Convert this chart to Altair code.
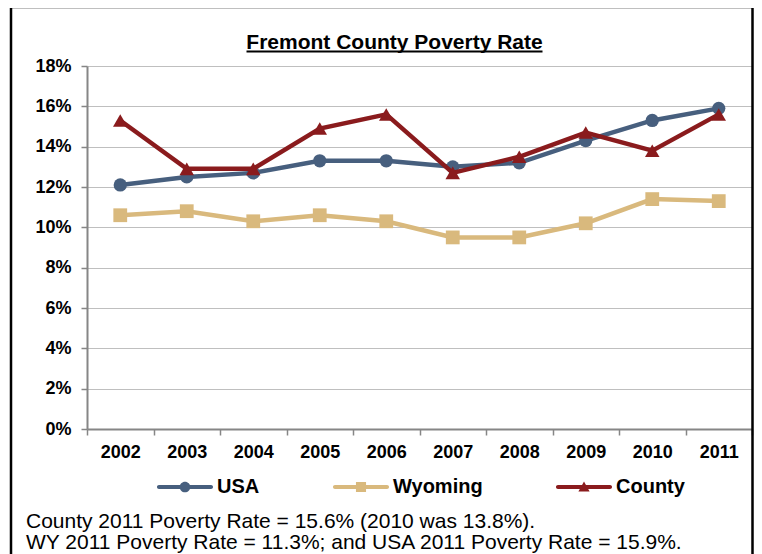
import altair as alt
import pandas as pd

years = ["2002", "2003", "2004", "2005", "2006", "2007", "2008", "2009", "2010", "2011"]
usa = [12.1, 12.5, 12.7, 13.3, 13.3, 13.0, 13.2, 14.3, 15.3, 15.9]
wyoming = [10.6, 10.8, 10.3, 10.6, 10.3, 9.5, 9.5, 10.2, 11.4, 11.3]
county = [15.3, 12.9, 12.9, 14.9, 15.6, 12.7, 13.5, 14.7, 13.8, 15.6]
series_names = ["USA", "Wyoming", "County"]
series_colors = ["#475F7E", "#D9B97D", "#8A1B1D"]
y_ticks = [0, 2, 4, 6, 8, 10, 12, 14, 16, 18]
title_text = "Fremont County Poverty Rate"
note1 = "County 2011 Poverty Rate = 15.6% (2010 was 13.8%)."
note2 = "WY 2011 Poverty Rate = 11.3%; and USA 2011 Poverty Rate = 15.9%."

FONT = "Liberation Sans"

rows = []
for name, vals in zip(series_names, [usa, wyoming, county]):
    for yr, v in zip(years, vals):
        rows.append({"year": yr, "value": v, "series": name})
df = pd.DataFrame(rows)

x_enc = alt.X(
    "year:O", sort=years,
    scale=alt.Scale(type="band", paddingInner=0, paddingOuter=0),
    bandPosition=0.5,
    axis=alt.Axis(title=None, labelAngle=0, labelFont=FONT, labelFontSize=18,
                  labelFontWeight="bold", labelColor="black", domainColor="#868686",
                  domainWidth=2, tickColor="#868686", tickWidth=1.5, tickSize=6,
                  tickBand="extent", labelPadding=8, grid=False),
)
y_enc = alt.Y(
    "value:Q",
    scale=alt.Scale(domain=[0, 18], nice=False),
    axis=alt.Axis(title=None, values=y_ticks, labelExpr="datum.value + '%'",
                  labelFont=FONT, labelFontSize=18, labelFontWeight="bold",
                  labelColor="black", labelPadding=10, tickSize=6,
                  tickColor="#868686", tickWidth=1.5, domainColor="#868686",
                  domainWidth=2, gridColor="#BFBFBF", gridWidth=1),
)

base = alt.Chart(df)

shapes = ["circle", "square", "triangle-up"]
sizes = [175, 190, 210]
layers = []

frame = alt.Chart(pd.DataFrame({"a": [0]})).mark_rect(
    fill="transparent", stroke="black", strokeWidth=2.5
).encode(x=alt.value(-76), x2=alt.value(665.5), y=alt.value(-59), y2=alt.value(600))
layers.append(frame)

for name, color, shp, sz in zip(series_names, series_colors, shapes, sizes):
    sub = base.transform_filter(alt.datum.series == name)
    layers.append(sub.mark_line(color=color, strokeWidth=4.5).encode(x=x_enc, y=y_enc))
    layers.append(sub.mark_point(shape=shp, filled=True, color=color, size=sz,
                                 opacity=1, strokeWidth=0).encode(x=x_enc, y=y_enc))

bar = "M-0.93,-0.071 L0.93,-0.071 A0.071,0.071 0 0,1 0.93,0.071 L-0.93,0.071 A0.071,0.071 0 0,1 -0.93,-0.071 Z"
legend_paths = [
    bar + " M-0.19,0 A0.19,0.19 0 1,1 0.19,0 A0.19,0.19 0 1,1 -0.19,0 Z",
    bar + " M-0.18,-0.18 L0.18,-0.18 L0.18,0.18 L-0.18,0.18 Z",
    bar + " M0,-0.2 L0.2,0.16 L-0.2,0.16 Z",
]
leg = alt.Legend(orient="none", legendX=70, legendY=393, direction="horizontal",
                 columns=3, title=None, labelFont=FONT, labelFontSize=20,
                 labelFontWeight="bold", labelColor="black", symbolSize=3136,
                 symbolStrokeWidth=0, symbolOpacity=1, labelOffset=4,
                 columnPadding=72)
legend_layer = alt.Chart(pd.DataFrame({"series": series_names})).transform_filter(
    "false"
).mark_point(filled=True, opacity=1).encode(
    color=alt.Color("series:N", scale=alt.Scale(domain=series_names, range=series_colors), legend=leg),
    shape=alt.Shape("series:N", scale=alt.Scale(domain=series_names, range=legend_paths), legend=leg),
)
layers.append(legend_layer)

title = alt.Chart(pd.DataFrame({"t": [title_text]})).mark_text(
    font=FONT, fontSize=21, fontWeight="bold", align="center", baseline="alphabetic", color="black"
).encode(x=alt.value(307.5), y=alt.value(-17), text="t:N")
underline = alt.Chart(pd.DataFrame({"a": [0]})).mark_rule(color="black", strokeWidth=2).encode(
    x=alt.value(159.5), x2=alt.value(455.5), y=alt.value(-14.5))
n1 = alt.Chart(pd.DataFrame({"t": [note1]})).mark_text(
    font=FONT, fontSize=21, align="left", baseline="alphabetic", color="black"
).encode(x=alt.value(-61), y=alt.value(462), text="t:N")
n2 = alt.Chart(pd.DataFrame({"t": [note2]})).mark_text(
    font=FONT, fontSize=21, align="left", baseline="alphabetic", color="black"
).encode(x=alt.value(-61), y=alt.value(483), text="t:N")
layers += [title, underline, n1, n2]

chart = alt.layer(*layers).properties(
    width=665, height=363,
    autosize=alt.AutoSizeParams(type="none"),
    padding={"left": 79, "top": 58, "right": 2, "bottom": 130},
    background="white",
).configure_view(strokeWidth=0)

chart.save("out.html", embed_options={"renderer": "svg", "actions": False})
